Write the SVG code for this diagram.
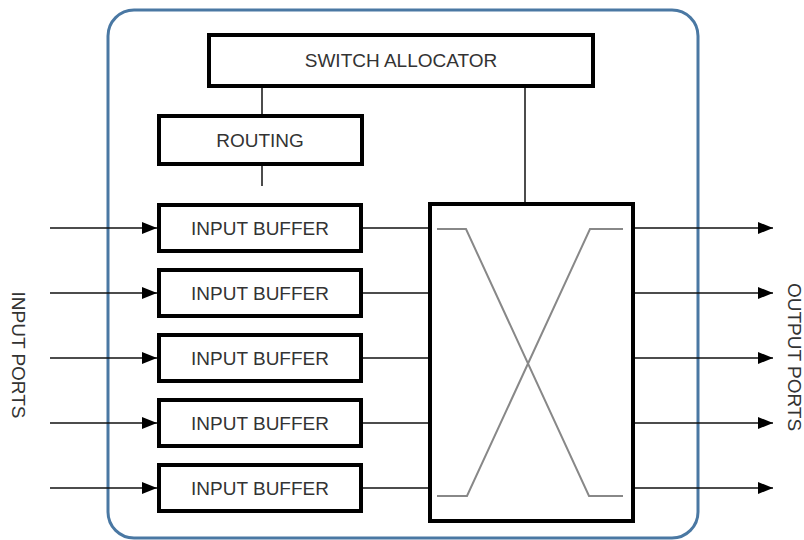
<svg xmlns="http://www.w3.org/2000/svg" width="804" height="540" viewBox="0 0 804 540">
<style>
.box{fill:#fff;stroke:#000;stroke-width:4}
.lbl{font-family:"Liberation Sans",Arial,sans-serif;font-size:19px;fill:#333;text-anchor:middle}
.ln{stroke:#111;stroke-width:1.5;fill:none}
.x{stroke:#888;stroke-width:2;fill:none}
</style>
<defs>
<marker id="ah" markerWidth="16" markerHeight="12" refX="15" refY="6" orient="auto" markerUnits="userSpaceOnUse">
<path d="M0,0 L15,6 L0,12 Z" fill="#000"/>
</marker>
</defs>
<rect x="0" y="0" width="804" height="540" fill="#fff"/>
<rect id="router" x="108" y="10" width="590" height="528" rx="26" fill="#fff" stroke="#4a78a3" stroke-width="3"/>
<g id="connectors">
<line class="ln" x1="262" y1="88" x2="262" y2="114"/>
<line class="ln" x1="262" y1="166" x2="262" y2="186"/>
<line class="ln" x1="525" y1="88" x2="525" y2="202"/>
<line class="ln" x1="50" y1="228" x2="157" y2="228" marker-end="url(#ah)"/>
<line class="ln" x1="50" y1="293" x2="157" y2="293" marker-end="url(#ah)"/>
<line class="ln" x1="50" y1="358" x2="157" y2="358" marker-end="url(#ah)"/>
<line class="ln" x1="50" y1="423" x2="157" y2="423" marker-end="url(#ah)"/>
<line class="ln" x1="50" y1="488" x2="157" y2="488" marker-end="url(#ah)"/>
<line class="ln" x1="363" y1="228" x2="430" y2="228"/>
<line class="ln" x1="363" y1="293" x2="430" y2="293"/>
<line class="ln" x1="363" y1="358" x2="430" y2="358"/>
<line class="ln" x1="363" y1="423" x2="430" y2="423"/>
<line class="ln" x1="357" y1="488" x2="430" y2="488"/>
<line class="ln" x1="635" y1="228" x2="773" y2="228" marker-end="url(#ah)"/>
<line class="ln" x1="635" y1="293" x2="773" y2="293" marker-end="url(#ah)"/>
<line class="ln" x1="635" y1="358" x2="773" y2="358" marker-end="url(#ah)"/>
<line class="ln" x1="635" y1="423" x2="773" y2="423" marker-end="url(#ah)"/>
<line class="ln" x1="635" y1="488" x2="773" y2="488" marker-end="url(#ah)"/>
</g>
<g id="switch-allocator">
<rect class="box" x="209" y="35" width="384" height="51"/>
<text class="lbl" x="401" y="67">SWITCH ALLOCATOR</text>
</g>
<g id="routing">
<rect class="box" x="159" y="116" width="203" height="48"/>
<text class="lbl" x="260" y="147">ROUTING</text>
</g>
<g id="buffer1">
<rect class="box" x="159" y="205" width="202" height="46"/>
<text class="lbl" x="260" y="234.5">INPUT BUFFER</text>
</g>
<g id="buffer2">
<rect class="box" x="159" y="270" width="202" height="46"/>
<text class="lbl" x="260" y="299.5">INPUT BUFFER</text>
</g>
<g id="buffer3">
<rect class="box" x="159" y="335" width="202" height="46"/>
<text class="lbl" x="260" y="364.5">INPUT BUFFER</text>
</g>
<g id="buffer4">
<rect class="box" x="159" y="400" width="202" height="46"/>
<text class="lbl" x="260" y="429.5">INPUT BUFFER</text>
</g>
<g id="buffer5">
<rect class="box" x="159" y="465" width="202" height="46"/>
<text class="lbl" x="260" y="494.5">INPUT BUFFER</text>
</g>
<g id="crossbar">
<rect class="box" x="430" y="204" width="203" height="317"/>
<polyline class="x" points="437,229 466,229 589,496 623,496"/>
<polyline class="x" points="437,496 467,496 590,229 623,229"/>
</g>
<g id="input-ports-label">
<text class="lbl" transform="translate(12,355) rotate(90)">INPUT PORTS</text>
</g>
<g id="output-ports-label">
<text class="lbl" transform="translate(788,357) rotate(90)">OUTPUT PORTS</text>
</g>
</svg>
